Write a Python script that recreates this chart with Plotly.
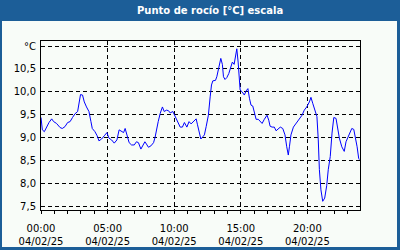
import plotly.graph_objects as go

# time of day in minutes since 00:00 on 04/02/25
minutes = [0, 6, 15, 25, 36, 48, 57, 70, 86, 96, 108, 120, 131, 142, 153, 165, 171, 178, 187, 195,
           205, 216, 225, 231, 243, 253, 261, 273, 285, 297, 306, 318, 330, 342, 352, 363, 372, 379,
           387, 397, 408, 420, 430, 439, 450, 460, 468, 475, 484, 495, 507, 514, 520, 528, 537, 547,
           555, 565, 574, 582, 594, 604, 615, 627, 637, 646, 657, 667, 676, 687, 699, 705, 712, 720,
           729, 736, 744, 754, 762, 768, 774, 786, 792, 802, 810, 817, 822, 829, 837, 846, 855, 862,
           870, 876, 882, 888, 891, 897, 906, 916, 924, 932, 939, 946, 954, 961, 969, 979, 988, 996,
           1006, 1018, 1026, 1032, 1041, 1051, 1059, 1068, 1078, 1089, 1099, 1107, 1114, 1119, 1126,
           1137, 1149, 1164, 1176, 1186, 1197, 1209, 1216, 1224, 1234, 1243, 1249, 1254, 1261, 1269,
           1278, 1287, 1294, 1303, 1311, 1319, 1329, 1337, 1344, 1355, 1366, 1374, 1382, 1389, 1400,
           1409, 1416, 1424, 1431, 1434]
dew_point = [9.44, 9.17, 9.13, 9.24, 9.33, 9.41, 9.35, 9.31, 9.22, 9.20, 9.24, 9.33, 9.35, 9.44, 9.52,
             9.57, 9.75, 9.94, 9.93, 9.78, 9.67, 9.57, 9.35, 9.20, 9.13, 9.04, 8.93, 8.97, 9.04, 9.11,
             8.99, 8.95, 8.88, 8.95, 9.17, 9.13, 9.11, 9.20, 9.04, 8.89, 8.84, 8.84, 8.91, 8.89, 8.75,
             8.84, 8.91, 8.86, 8.79, 8.82, 8.89, 9.01, 9.17, 9.35, 9.53, 9.67, 9.57, 9.60, 9.59, 9.54,
             9.57, 9.47, 9.35, 9.23, 9.23, 9.33, 9.23, 9.35, 9.30, 9.36, 9.41, 9.28, 9.10, 8.97, 9.02,
             9.06, 9.24, 9.49, 9.89, 10.15, 10.24, 10.25, 10.33, 10.58, 10.73, 10.60, 10.33, 10.27,
             10.31, 10.40, 10.54, 10.65, 10.60, 10.83, 10.94, 10.65, 10.33, 10.04, 10.00, 9.93, 10.02,
             10.07, 9.86, 9.71, 9.69, 9.53, 9.40, 9.40, 9.35, 9.31, 9.40, 9.49, 9.38, 9.25, 9.23, 9.23,
             9.15, 9.18, 9.23, 9.20, 9.06, 8.80, 8.62, 8.80, 9.06, 9.23, 9.31, 9.40, 9.49, 9.60, 9.67,
             9.78, 9.88, 9.75, 9.59, 9.46, 8.95, 8.30, 7.86, 7.61, 7.68, 7.95, 8.30, 8.59, 9.10, 9.44,
             9.42, 9.20, 8.99, 8.80, 8.70, 8.91, 8.99, 9.06, 9.20, 9.18, 9.02, 8.80, 8.55, 8.52]

x_tick_vals = [0, 300, 600, 900, 1200]
x_tick_text = ["00:00<br>04/02/25", "05:00<br>04/02/25", "10:00<br>04/02/25",
               "15:00<br>04/02/25", "20:00<br>04/02/25"]
y_tick_vals = [7.5, 8.0, 8.5, 9.0, 9.5, 10.0, 10.5, 11.0]
y_tick_text = ["7,5", "8,0", "8,5", "9,0", "9,5", "10,0", "10,5", "°C"]
title_text = "Punto de rocío [°C] escala"

BLUE = "#1c5e98"
INNER = "#f8fcf8"
W, H = 400, 250
ML, MR, MT, MB = 41, 40, 41, 40
PW, PH = W - ML - MR, H - MT - MB


def px_x(p):
    return (p - ML) / PW


def px_y(p):
    return (H - MB - p) / PH


fig = go.Figure()
fig.add_trace(go.Scatter(x=minutes, y=dew_point, mode="lines",
                         line=dict(color="#0000ff", width=1), hoverinfo="skip"))

fig.update_layout(
    width=W, height=H,
    margin=dict(l=ML, r=MR, t=MT, b=MB, pad=0, autoexpand=False),
    paper_bgcolor=BLUE,
    plot_bgcolor=INNER,
    showlegend=False,
    font=dict(family="DejaVu Sans", size=10, color="black"),
    shapes=[dict(type="rect", xref="paper", yref="paper",
                 x0=px_x(2), x1=px_x(397), y0=px_y(247), y1=px_y(21),
                 fillcolor=INNER, line=dict(width=0), layer="below")],
    annotations=[dict(text="<b>" + title_text + "</b>", xref="paper", yref="paper",
                      x=px_x(210), y=px_y(10.5), xanchor="center", yanchor="middle",
                      showarrow=False, font=dict(family="DejaVu Sans", size=10, color="white"))],
)

fig.update_xaxes(
    range=[0, 1437], tickmode="array", tickvals=x_tick_vals, ticktext=x_tick_text,
    automargin=False,
    showline=True, linecolor="black", linewidth=1, mirror=True,
    showgrid=True, gridcolor="black", gridwidth=1, griddash="4px,3px",
    zeroline=False, ticks="outside", ticklen=3, tickcolor="black", ticklabelstandoff=6,
    minor=dict(ticks="outside", ticklen=3, tickcolor="black", tick0=0, dtick=60, showgrid=False),
    tickfont=dict(family="DejaVu Sans", size=10, color="black"),
)
fig.update_yaxes(
    range=[7.42, 11.11], tickmode="array", tickvals=y_tick_vals, ticktext=y_tick_text,
    automargin=False,
    showline=True, linecolor="black", linewidth=1, mirror=True,
    showgrid=True, gridcolor="black", gridwidth=1, griddash="4px,3px",
    zeroline=False, ticks="outside", ticklen=2, tickcolor="rgba(0,0,0,0)",
    tickfont=dict(family="DejaVu Sans", size=10, color="black"),
)

fig.write_html("out.html")
